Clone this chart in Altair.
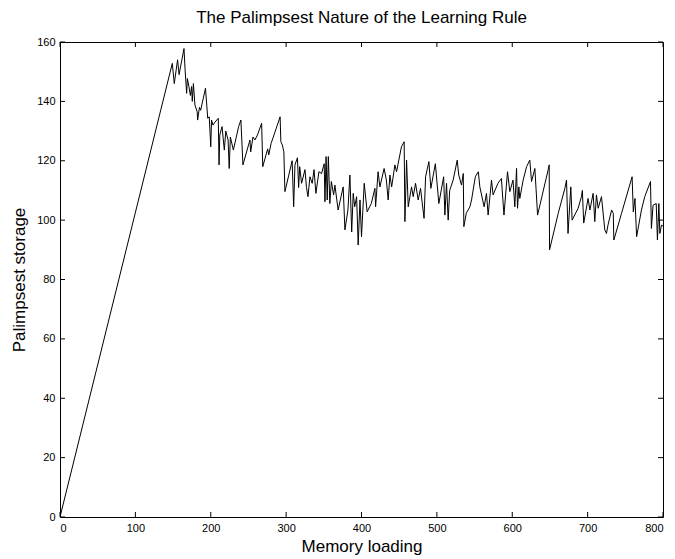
import altair as alt
import pandas as pd

# Memory loading (x) and Palimpsest storage (y)
loading = [0, 149, 151.6, 156, 158, 164.5, 166, 168, 169, 171, 173, 174.6, 175.5, 177, 179,
           182, 182.6, 185, 186.6, 193, 196, 198, 200, 201, 203, 205.6, 210, 211, 212, 215,
           218, 220, 223, 224.5, 226, 230, 237, 240, 242.7, 252, 253, 256, 258.6, 262, 267.5,
           269, 275.5, 277, 280, 283, 292, 293, 295, 297, 298.4, 308, 310, 311.7, 315, 316.6,
           318, 320.5, 325, 327, 329, 331.6, 334.6, 337, 339.5, 343.5, 347, 350.5, 351.5,
           353, 354.5, 356, 358, 360, 363, 364.7, 369, 375.7, 378, 382, 384.6, 387, 389, 391,
           393.5, 395.6, 398, 400, 403.6, 407.5, 413, 417.8, 418.7, 422, 424.4, 430, 433,
           435.4, 437.7, 440, 444.3, 446.5, 453, 456.6, 457.6, 459.8, 462, 466.4, 468.6,
           471.7, 475.2, 478.3, 483, 485, 489.4, 492, 498, 502.6, 509, 510.6, 512.8, 515,
           517, 521.6, 527, 529, 532.7, 535, 535.8, 539, 543.8, 546, 551, 555, 557, 562.7,
           565.8, 568, 572.5, 574.6, 581, 585.6, 589, 593.7, 596.8, 601, 603.4, 605.7, 607,
           608.8, 610, 614.5, 619, 623.3, 625.6, 630, 633.6, 647.6, 649, 649.5, 661, 669.8,
           672, 674, 677.7, 679.4, 687.4, 691.8, 693, 694.8, 700.6, 703, 707.3, 709.5, 711.7,
           714, 718.4, 722.8, 725, 727, 731.8, 734, 734.8, 745, 759, 760.6, 762.8, 765, 771.4,
           775.8, 783.4, 784.6, 786.8, 791, 792.6, 794.5, 795.8, 798, 800]
storage = [0, 152.8, 146, 154, 149, 157.8, 150.5, 142.7, 147.7, 145, 142, 145, 140, 146, 138.8,
           136.5, 133.7, 138, 137, 144.4, 134.3, 134.8, 124.7, 133.7, 132, 133, 134.3, 118.6,
           128.7, 131.5, 123.6, 130, 127, 117.4, 128, 123.6, 131.5, 133.7, 118.6, 127, 123,
           128, 127, 128.7, 132.6, 118, 124, 122, 125.8, 128, 134.8, 126.4, 125.3, 123, 109.6,
           120, 104.5, 118.6, 121, 111, 118, 112.4, 117, 111, 107.9, 114.6, 112.4, 117, 109,
           116.3, 115.7, 119, 106.2, 121.4, 106.8, 121.4, 105.6, 113, 108.5, 111.8, 103.4,
           111.2, 96.7, 103.4, 115.2, 96, 109, 104.5, 107.9, 91.6, 106.8, 94.4, 112.4, 102.8,
           105.6, 110.7, 104.5, 116.3, 111.2, 117.4, 113.5, 106.8, 115.2, 111.2, 118.6, 116.3,
           124.7, 126.4, 99.5, 120.2, 104.5, 111.2, 107.9, 112.4, 106.8, 110.7, 100.6, 114.6,
           119.7, 110.7, 119, 105.6, 114.6, 101.7, 112.4, 100, 110, 113.5, 120.2, 115.2,
           111.8, 115.7, 97.8, 102.3, 104.5, 106.8, 114.6, 116.3, 111.2, 104.5, 109, 101.7,
           113.5, 108.5, 112.4, 114, 101.7, 116.3, 109.6, 113.5, 104.5, 117.4, 104, 111.2,
           107.3, 113.5, 118, 120.2, 113, 117.4, 101.7, 116.9, 118.6, 90, 102.3, 110.7, 113.5,
           95.5, 111.2, 100, 104, 107.9, 110, 99, 107.3, 103.4, 109, 99.5, 108.5, 104, 107.9,
           96.7, 95.5, 98.3, 103.4, 102.3, 93.3, 102.3, 114.6, 102.8, 107.3, 94.4, 103.4,
           107.9, 113, 97.2, 105, 105.6, 93.3, 105.6, 95.5, 98.3, 98]

x_ticks = [0, 100, 200, 300, 400, 500, 600, 700, 800]
y_ticks = [0, 20, 40, 60, 80, 100, 120, 140, 160]

W, H = 603, 475
FONT = "Liberation Sans"

df = pd.DataFrame({"x": loading, "y": storage})
xt = pd.DataFrame({"t": x_ticks})
yt = pd.DataFrame({"t": y_ticks})

xs = alt.Scale(domain=[0, 800], nice=False, zero=False)
ys = alt.Scale(domain=[0, 160], nice=False, zero=False)

line = alt.Chart(df).mark_line(color="black", strokeWidth=1, clip=True).encode(
    x=alt.X("x:Q", scale=xs, title="Memory loading",
            axis=alt.Axis(values=x_ticks, ticks=False, domain=False, grid=False,
                          labelPadding=5, titlePadding=5, labelFlush=True)),
    y=alt.Y("y:Q", scale=ys, title="Palimpsest storage",
            axis=alt.Axis(values=y_ticks, ticks=False, domain=False, grid=False,
                          labelPadding=5, titlePadding=8)),
    order=alt.Order("idx:Q"),
).transform_window(idx="row_number()")

tl = 5
xb = alt.Chart(xt).mark_rule(color="black", strokeWidth=1).encode(
    x=alt.X("t:Q", scale=xs), y=alt.value(H), y2=alt.value(H - tl))
xtop = alt.Chart(xt).mark_rule(color="black", strokeWidth=1).encode(
    x=alt.X("t:Q", scale=xs), y=alt.value(0), y2=alt.value(tl))
yl = alt.Chart(yt).mark_rule(color="black", strokeWidth=1).encode(
    y=alt.Y("t:Q", scale=ys), x=alt.value(0), x2=alt.value(tl))
yr = alt.Chart(yt).mark_rule(color="black", strokeWidth=1).encode(
    y=alt.Y("t:Q", scale=ys), x=alt.value(W), x2=alt.value(W - tl))

chart = alt.layer(line, xb, xtop, yl, yr).properties(
    width=W, height=H,
    title=alt.Title("The Palimpsest Nature of the Learning Rule", font=FONT,
                    fontSize=17, fontWeight="normal", color="black", offset=9),
    autosize=alt.AutoSizeParams(type="none"),
    padding={"left": 52, "top": 34, "right": 4, "bottom": 42},
).configure_view(stroke="black", strokeWidth=1).configure_axis(
    labelFont=FONT, labelFontSize=11, labelColor="black",
    titleFont=FONT, titleFontSize=17, titleFontWeight="normal", titleColor="black",
)

chart.save("out.html", embed_options={"renderer": "svg", "actions": False})
